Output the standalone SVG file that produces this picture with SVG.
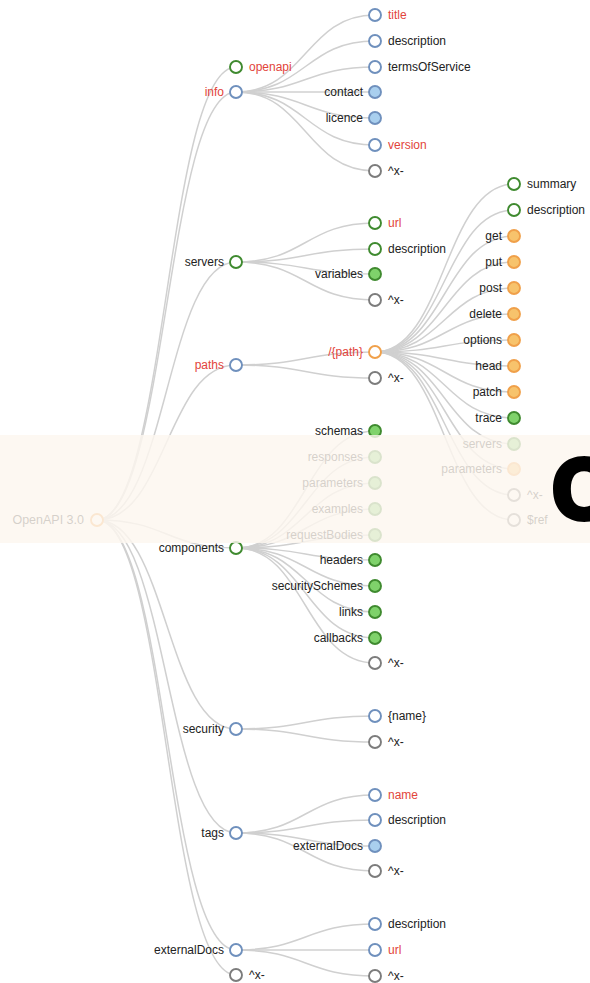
<svg xmlns="http://www.w3.org/2000/svg" width="590" height="983" viewBox="0 0 590 983">
<style>
  .link { fill: none; stroke: #d0d0d0; stroke-width: 1.5; }
  circle { stroke-width: 1.9; }
  .b { fill: #fff; stroke: #6f90bd; }
  .bf { fill: #a9cfee; stroke: #6f90bd; }
  .g { fill: #fff; stroke: #3f8a2f; }
  .gf { fill: #7fd26b; stroke: #3f8a2f; }
  .o { fill: #fff; stroke: #f0a04a; }
  .of { fill: #f7c36c; stroke: #f0a04a; }
  .x { fill: #fff; stroke: #7c7c7c; }
  text { font-family: "Liberation Sans", Arial, sans-serif; font-size: 12px; fill: #222; }
  text.red { fill: #e2443b; }
  text.l { text-anchor: end; }
  .band { fill: #fcf6ef; opacity: 0.82; }
  .big { font-family: Inter, "Liberation Sans", sans-serif; font-weight: 900; font-size: 88px; fill: #000; }
</style>
<rect width="590" height="983" fill="#fff"/>

<g id="links">
  <!-- root -> level 1 -->
  <path class="link" d="M97,520 C166.5,520 166.5,67 236,67"/>
  <path class="link" d="M97,520 C166.5,520 166.5,92 236,92"/>
  <path class="link" d="M97,520 C166.5,520 166.5,262 236,262"/>
  <path class="link" d="M97,520 C166.5,520 166.5,365 236,365"/>
  <path class="link" d="M97,520 C166.5,520 166.5,548 236,548"/>
  <path class="link" d="M97,520 C166.5,520 166.5,729 236,729"/>
  <path class="link" d="M97,520 C166.5,520 166.5,833 236,833"/>
  <path class="link" d="M97,520 C166.5,520 166.5,950 236,950"/>
  <path class="link" d="M97,520 C166.5,520 166.5,975 236,975"/>
  <!-- info -->
  <path class="link" d="M236,92 C305.5,92 305.5,15 375,15"/>
  <path class="link" d="M236,92 C305.5,92 305.5,41 375,41"/>
  <path class="link" d="M236,92 C305.5,92 305.5,67 375,67"/>
  <path class="link" d="M236,92 C305.5,92 305.5,92 375,92"/>
  <path class="link" d="M236,92 C305.5,92 305.5,118 375,118"/>
  <path class="link" d="M236,92 C305.5,92 305.5,145 375,145"/>
  <path class="link" d="M236,92 C305.5,92 305.5,171 375,171"/>
  <!-- servers -->
  <path class="link" d="M236,262 C305.5,262 305.5,223 375,223"/>
  <path class="link" d="M236,262 C305.5,262 305.5,249 375,249"/>
  <path class="link" d="M236,262 C305.5,262 305.5,274 375,274"/>
  <path class="link" d="M236,262 C305.5,262 305.5,300 375,300"/>
  <!-- paths -->
  <path class="link" d="M236,365 C305.5,365 305.5,352 375,352"/>
  <path class="link" d="M236,365 C305.5,365 305.5,378 375,378"/>
  <!-- components -->
  <path class="link" d="M236,548 C305.5,548 305.5,431 375,431"/>
  <path class="link" d="M236,548 C305.5,548 305.5,457 375,457"/>
  <path class="link" d="M236,548 C305.5,548 305.5,483 375,483"/>
  <path class="link" d="M236,548 C305.5,548 305.5,509 375,509"/>
  <path class="link" d="M236,548 C305.5,548 305.5,535 375,535"/>
  <path class="link" d="M236,548 C305.5,548 305.5,560 375,560"/>
  <path class="link" d="M236,548 C305.5,548 305.5,586 375,586"/>
  <path class="link" d="M236,548 C305.5,548 305.5,612 375,612"/>
  <path class="link" d="M236,548 C305.5,548 305.5,638 375,638"/>
  <path class="link" d="M236,548 C305.5,548 305.5,663 375,663"/>
  <!-- security -->
  <path class="link" d="M236,729 C305.5,729 305.5,716 375,716"/>
  <path class="link" d="M236,729 C305.5,729 305.5,742 375,742"/>
  <!-- tags -->
  <path class="link" d="M236,833 C305.5,833 305.5,795 375,795"/>
  <path class="link" d="M236,833 C305.5,833 305.5,820 375,820"/>
  <path class="link" d="M236,833 C305.5,833 305.5,846 375,846"/>
  <path class="link" d="M236,833 C305.5,833 305.5,871 375,871"/>
  <!-- externalDocs -->
  <path class="link" d="M236,950 C305.5,950 305.5,924 375,924"/>
  <path class="link" d="M236,950 C305.5,950 305.5,950 375,950"/>
  <path class="link" d="M236,950 C305.5,950 305.5,976 375,976"/>
  <!-- /{path} -->
  <path class="link" d="M375,352 C444.5,352 444.5,184 514,184"/>
  <path class="link" d="M375,352 C444.5,352 444.5,210 514,210"/>
  <path class="link" d="M375,352 C444.5,352 444.5,236 514,236"/>
  <path class="link" d="M375,352 C444.5,352 444.5,262 514,262"/>
  <path class="link" d="M375,352 C444.5,352 444.5,288 514,288"/>
  <path class="link" d="M375,352 C444.5,352 444.5,314 514,314"/>
  <path class="link" d="M375,352 C444.5,352 444.5,340 514,340"/>
  <path class="link" d="M375,352 C444.5,352 444.5,366 514,366"/>
  <path class="link" d="M375,352 C444.5,352 444.5,392 514,392"/>
  <path class="link" d="M375,352 C444.5,352 444.5,418 514,418"/>
  <path class="link" d="M375,352 C444.5,352 444.5,444 514,444"/>
  <path class="link" d="M375,352 C444.5,352 444.5,469 514,469"/>
  <path class="link" d="M375,352 C444.5,352 444.5,495 514,495"/>
  <path class="link" d="M375,352 C444.5,352 444.5,520 514,520"/>
</g>

<g id="nodes">
  <g id="root" transform="translate(97,520)"><circle r="6" class="o"/><text class="l" x="-13" dy="4" style="font-size:12.5px">OpenAPI 3.0</text></g>

  <g id="openapi" transform="translate(236,67)"><circle r="6" class="g"/><text class="red" x="13" dy="4">openapi</text></g>
  <g id="info" transform="translate(236,92)"><circle r="6" class="b"/><text class="l red" x="-12" dy="4">info</text></g>
  <g id="servers" transform="translate(236,262)"><circle r="6" class="g"/><text class="l" x="-12" dy="4">servers</text></g>
  <g id="paths" transform="translate(236,365)"><circle r="6" class="b"/><text class="l red" x="-12" dy="4">paths</text></g>
  <g id="components" transform="translate(236,548)"><circle r="6" class="g"/><text class="l" x="-12" dy="4">components</text></g>
  <g id="security" transform="translate(236,729)"><circle r="6" class="b"/><text class="l" x="-12" dy="4">security</text></g>
  <g id="tags" transform="translate(236,833)"><circle r="6" class="b"/><text class="l" x="-12" dy="4">tags</text></g>
  <g id="externalDocs" transform="translate(236,950)"><circle r="6" class="b"/><text class="l" x="-12" dy="4">externalDocs</text></g>
  <g id="root-ext" transform="translate(236,975)"><circle r="6" class="x"/><text x="13" dy="4">^x-</text></g>

  <g id="info-title" transform="translate(375,15)"><circle r="6" class="b"/><text class="red" x="13" dy="4">title</text></g>
  <g id="info-description" transform="translate(375,41)"><circle r="6" class="b"/><text x="13" dy="4">description</text></g>
  <g id="info-terms" transform="translate(375,67)"><circle r="6" class="b"/><text x="13" dy="4">termsOfService</text></g>
  <g id="info-contact" transform="translate(375,92)"><circle r="6" class="bf"/><text class="l" x="-12" dy="4">contact</text></g>
  <g id="info-licence" transform="translate(375,118)"><circle r="6" class="bf"/><text class="l" x="-12" dy="4">licence</text></g>
  <g id="info-version" transform="translate(375,145)"><circle r="6" class="b"/><text class="red" x="13" dy="4">version</text></g>
  <g id="info-ext" transform="translate(375,171)"><circle r="6" class="x"/><text x="13" dy="4">^x-</text></g>

  <g id="servers-url" transform="translate(375,223)"><circle r="6" class="g"/><text class="red" x="13" dy="4">url</text></g>
  <g id="servers-description" transform="translate(375,249)"><circle r="6" class="g"/><text x="13" dy="4">description</text></g>
  <g id="servers-variables" transform="translate(375,274)"><circle r="6" class="gf"/><text class="l" x="-12" dy="4">variables</text></g>
  <g id="servers-ext" transform="translate(375,300)"><circle r="6" class="x"/><text x="13" dy="4">^x-</text></g>

  <g id="paths-path" transform="translate(375,352)"><circle r="6" class="o"/><text class="l red" x="-12" dy="4">/{path}</text></g>
  <g id="paths-ext" transform="translate(375,378)"><circle r="6" class="x"/><text x="13" dy="4">^x-</text></g>

  <g id="comp-schemas" transform="translate(375,431)"><circle r="6" class="gf"/><text class="l" x="-12" dy="4">schemas</text></g>
  <g id="comp-responses" transform="translate(375,457)"><circle r="6" class="gf"/><text class="l" x="-12" dy="4">responses</text></g>
  <g id="comp-parameters" transform="translate(375,483)"><circle r="6" class="gf"/><text class="l" x="-12" dy="4">parameters</text></g>
  <g id="comp-examples" transform="translate(375,509)"><circle r="6" class="gf"/><text class="l" x="-12" dy="4">examples</text></g>
  <g id="comp-requestBodies" transform="translate(375,535)"><circle r="6" class="gf"/><text class="l" x="-12" dy="4">requestBodies</text></g>
  <g id="comp-headers" transform="translate(375,560)"><circle r="6" class="gf"/><text class="l" x="-12" dy="4">headers</text></g>
  <g id="comp-securitySchemes" transform="translate(375,586)"><circle r="6" class="gf"/><text class="l" x="-12" dy="4">securitySchemes</text></g>
  <g id="comp-links" transform="translate(375,612)"><circle r="6" class="gf"/><text class="l" x="-12" dy="4">links</text></g>
  <g id="comp-callbacks" transform="translate(375,638)"><circle r="6" class="gf"/><text class="l" x="-12" dy="4">callbacks</text></g>
  <g id="comp-ext" transform="translate(375,663)"><circle r="6" class="x"/><text x="13" dy="4">^x-</text></g>

  <g id="security-name" transform="translate(375,716)"><circle r="6" class="b"/><text x="13" dy="4">{name}</text></g>
  <g id="security-ext" transform="translate(375,742)"><circle r="6" class="x"/><text x="13" dy="4">^x-</text></g>

  <g id="tags-name" transform="translate(375,795)"><circle r="6" class="b"/><text class="red" x="13" dy="4">name</text></g>
  <g id="tags-description" transform="translate(375,820)"><circle r="6" class="b"/><text x="13" dy="4">description</text></g>
  <g id="tags-externalDocs" transform="translate(375,846)"><circle r="6" class="bf"/><text class="l" x="-12" dy="4">externalDocs</text></g>
  <g id="tags-ext" transform="translate(375,871)"><circle r="6" class="x"/><text x="13" dy="4">^x-</text></g>

  <g id="docs-description" transform="translate(375,924)"><circle r="6" class="b"/><text x="13" dy="4">description</text></g>
  <g id="docs-url" transform="translate(375,950)"><circle r="6" class="b"/><text class="red" x="13" dy="4">url</text></g>
  <g id="docs-ext" transform="translate(375,976)"><circle r="6" class="x"/><text x="13" dy="4">^x-</text></g>

  <g id="path-summary" transform="translate(514,184)"><circle r="6" class="g"/><text x="13" dy="4">summary</text></g>
  <g id="path-description" transform="translate(514,210)"><circle r="6" class="g"/><text x="13" dy="4">description</text></g>
  <g id="path-get" transform="translate(514,236)"><circle r="6" class="of"/><text class="l" x="-12" dy="4">get</text></g>
  <g id="path-put" transform="translate(514,262)"><circle r="6" class="of"/><text class="l" x="-12" dy="4">put</text></g>
  <g id="path-post" transform="translate(514,288)"><circle r="6" class="of"/><text class="l" x="-12" dy="4">post</text></g>
  <g id="path-delete" transform="translate(514,314)"><circle r="6" class="of"/><text class="l" x="-12" dy="4">delete</text></g>
  <g id="path-options" transform="translate(514,340)"><circle r="6" class="of"/><text class="l" x="-12" dy="4">options</text></g>
  <g id="path-head" transform="translate(514,366)"><circle r="6" class="of"/><text class="l" x="-12" dy="4">head</text></g>
  <g id="path-patch" transform="translate(514,392)"><circle r="6" class="of"/><text class="l" x="-12" dy="4">patch</text></g>
  <g id="path-trace" transform="translate(514,418)"><circle r="6" class="gf"/><text class="l" x="-12" dy="4">trace</text></g>
  <g id="path-servers" transform="translate(514,444)"><circle r="6" class="gf"/><text class="l" x="-12" dy="4">servers</text></g>
  <g id="path-parameters" transform="translate(514,469)"><circle r="6" class="of"/><text class="l" x="-12" dy="4">parameters</text></g>
  <g id="path-ext" transform="translate(514,495)"><circle r="6" class="x"/><text x="13" dy="4">^x-</text></g>
  <g id="path-ref" transform="translate(514,520)"><circle r="6" class="x"/><text x="13" dy="4">$ref</text></g>
</g>

<!-- translucent banner across the middle -->
<rect class="band" x="0" y="435" width="590" height="108"/>
<text class="big" x="550" y="521">O</text>
</svg>
